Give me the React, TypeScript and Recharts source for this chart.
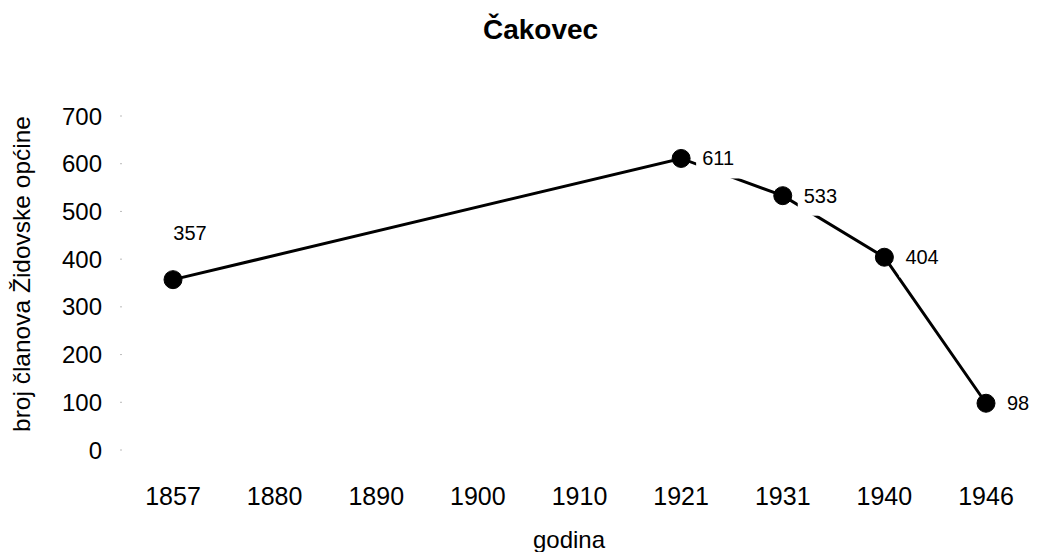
import { LineChart, Line, XAxis, YAxis, LabelList } from "recharts";

const years = ["1857", "1880", "1890", "1900", "1910", "1921", "1931", "1940", "1946"];
const members: (number | null)[] = [357, null, null, null, null, 611, 533, 404, 98];
const yTicks = [0, 100, 200, 300, 400, 500, 600, 700];

const data = years.map((year, i) => ({ year, members: members[i] }));

const FONT = "'Liberation Sans', Arial, Helvetica, sans-serif";

function PointLabel(props: any) {
  const { x, y, value, index } = props;
  if (value == null) return null;
  // first point has its label above, the rest to the right with a white box
  if (index === 0) {
    return (
      <text x={x + 17} y={y - 47} textAnchor="middle" dominantBaseline="central" fontSize={20} fontFamily={FONT} fill="#000">
        {value}
      </text>
    );
  }
  return (
    <g>
      <rect x={x + 15} y={y - 15} width={50} height={35} fill="#fff" />
      <text x={x + 21} y={y} textAnchor="start" dominantBaseline="central" fontSize={20} fontFamily={FONT} fill="#000">
        {value}
      </text>
    </g>
  );
}

function YLabel() {
  return (
    <g clipPath="url(#ylabel-clip)">
      <defs>
        <clipPath id="ylabel-clip">
          <rect x={0} y={117} width={60} height={400} />
        </clipPath>
      </defs>
      <text
        x={0}
        y={0}
        transform="translate(30, 432) rotate(-90)"
        textAnchor="start"
        fontSize={24.5}
        fontFamily={FONT}
        fill="#000"
      >
        broj članova Židovske općine
      </text>
    </g>
  );
}

export default function App() {
  return (
    <div style={{ position: "absolute", left: 0, top: 0, width: 1041, height: 552, background: "#fff" }}>
      <div
        style={{
          position: "absolute",
          top: 14,
          left: 0,
          width: 1041,
          textAlign: "center",
          fontFamily: FONT,
          fontWeight: "bold",
          fontSize: 28,
          paddingLeft: 40,
          boxSizing: "border-box",
        }}
      >
        Čakovec
      </div>
      <LineChart width={1041} height={552} data={data} margin={{ top: 116, right: 5, bottom: 0, left: 0 }}>
        <XAxis
          dataKey="year"
          height={102}
          padding={{ left: 51, right: 50 }}
          axisLine={false}
          tickLine={false}
          tickMargin={31}
          tick={{ fontSize: 25, fontFamily: FONT, fill: "#000" }}
          label={{ value: "godina", position: "insideBottom", offset: 4, fontSize: 24, fontFamily: FONT, fill: "#000", dx: -10 }}
        />
        <YAxis
          width={122}
          domain={[0, 700]}
          ticks={yTicks}
          axisLine={false}
          tickLine={{ stroke: "#bbb" }}
          tickSize={2}
          tickMargin={18}
          tick={{ fontSize: 24, fontFamily: FONT, fill: "#000" }}
          label={<YLabel />}
        />
        <Line
          dataKey="members"
          stroke="#000"
          strokeWidth={3}
          connectNulls
          isAnimationActive={false}
          dot={{ r: 9, fill: "#000", stroke: "#000", strokeWidth: 1 }}
          activeDot={false}
        >
          <LabelList dataKey="members" content={<PointLabel />} />
        </Line>
      </LineChart>
    </div>
  );
}
